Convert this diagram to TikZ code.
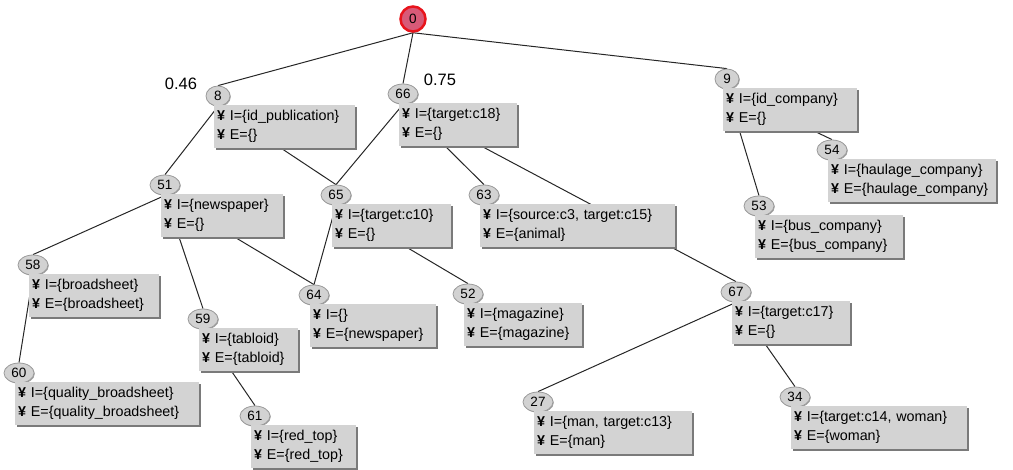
\documentclass[tikz,border=0pt]{standalone}
\usepackage{fontspec}
\setmainfont{Liberation Sans}
\usetikzlibrary{shapes.geometric,shadows,backgrounds}

\definecolor{boxgray}{HTML}{D3D3D3}
\definecolor{shadowgray}{HTML}{7A7A7A}
\definecolor{ellgray}{HTML}{D2D2D2}
\definecolor{ellline}{HTML}{9A9A9A}
\definecolor{rootfill}{HTML}{D85A78}
\definecolor{rootline}{HTML}{E8141C}

\newcommand\mk{\textbf{¥}}

\tikzset{
  num/.style={ellipse, draw=ellline, fill=ellgray, line width=0.8pt,
    minimum width=30pt, minimum height=20pt, inner sep=0pt,
    font=\fontsize{13.5}{13.5}\selectfont,
    general shadow={fill=shadowgray!70, shadow xshift=0.8pt, shadow yshift=-0.8pt}},
  one/.style={minimum width=24pt},
  info/.style={rectangle, fill=boxgray, anchor=north west, minimum height=43pt,
    inner xsep=3pt, inner ysep=0pt, align=left,
    font=\fontsize{14.3}{18.5}\selectfont,
    general shadow={fill=shadowgray, shadow xshift=2pt, shadow yshift=-2pt}},
  link/.style={line width=1pt, draw=black!85},
  weight/.style={font=\fontsize{16.5}{16.5}\selectfont}
}

% #1 extra ellipse options, #2 name, #3 x, #4 y, #5 number,
% #6 text width of the info box, #7 first line, #8 second line
\newcommand\treenode[8][]{%
  \node[num,#1] (#2) at (#3,#4) {#5};
  \node[info, text width=#6pt] (#2b) at (#3-4,#4+8.5)
    {\mbox{\mk\ #7}\\\mbox{\mk\ #8}};
}

\begin{document}
\begin{tikzpicture}[x=1pt, y=-1pt]
\useasboundingbox (0,0) rectangle (1013,469);

\node[circle, draw=rootline, line width=2.5pt, fill=rootfill, minimum size=25pt,
  inner sep=0pt, font=\fontsize{13.5}{13.5}\selectfont] (n0) at (413,19) {0};

\treenode[one]{n8}{218}{96}{8}{135}{I=\{id\_publication\}}{E=\{\}}
\treenode{n66}{403}{94}{66}{112}{I=\{target:c18\}}{E=\{\}}
\treenode[one]{n9}{727}{79}{9}{128}{I=\{id\_company\}}{E=\{\}}
\treenode{n54}{832}{150}{54}{162}{I=\{haulage\_company\}}{E=\{haulage\_company\}}
\treenode{n53}{759}{206}{53}{142}{I=\{bus\_company\}}{E=\{bus\_company\}}
\treenode{n51}{165}{185}{51}{116}{I=\{newspaper\}}{E=\{\}}
\treenode{n58}{33}{265}{58}{124}{I=\{broadsheet\}}{E=\{broadsheet\}}
\treenode{n65}{336}{195}{65}{113}{I=\{target:c10\}}{E=\{\}}
\treenode{n63}{484}{195}{63}{189}{I=\{source:c3, target:c15\}}{E=\{animal\}}
\treenode{n64}{314}{295}{64}{120}{I=\{\}}{E=\{newspaper\}}
\treenode{n52}{468}{294}{52}{112}{I=\{magazine\}}{E=\{magazine\}}
\treenode{n67}{736}{292}{67}{112}{I=\{target:c17\}}{E=\{\}}
\treenode{n59}{203}{319}{59}{93}{I=\{tabloid\}}{E=\{tabloid\}}
\treenode{n60}{19}{373}{60}{178}{I=\{quality\_broadsheet\}}{E=\{quality\_broadsheet\}}
\treenode{n61}{255}{416}{61}{99}{I=\{red\_top\}}{E=\{red\_top\}}
\treenode{n27}{538}{402}{27}{152}{I=\{man, target:c13\}}{E=\{man\}}
\treenode{n34}{795}{397}{34}{170}{I=\{target:c14, woman\}}{E=\{woman\}}

\node[weight] (w046) at (181,84) {0.46};
\node[weight] (w075) at (440,80) {0.75};

\begin{scope}[on background layer]
  \draw[link] (n0.south) -- (n8.north);
  \draw[link] (n0.south) -- (n66.north);
  \draw[link] (n0.south) -- (n9.north);
  \draw[link] (n8.south) -- (n51.north);
  \draw[link] (n8.south) -- (n65.north);
  \draw[link] (n66.south) -- (n65.north);
  \draw[link] (n66.south) -- (n63.north);
  \draw[link] (n66.south) -- (n67.north);
  \draw[link] (n9.south) -- (n53.north);
  \draw[link] (n9.south) -- (n54.north);
  \draw[link] (n51.south) -- (n58.north);
  \draw[link] (n51.south) -- (n59.north);
  \draw[link] (n51.south) -- (n64.north);
  \draw[link] (n65.south) -- (n64.north);
  \draw[link] (n65.south) -- (n52.north);
  \draw[link] (n58.south) -- (n60.north);
  \draw[link] (n59.south) -- (n61.north);
  \draw[link] (n67.south) -- (n27.north);
  \draw[link] (n67.south) -- (n34.north);
\end{scope}
\end{tikzpicture}
\end{document}
